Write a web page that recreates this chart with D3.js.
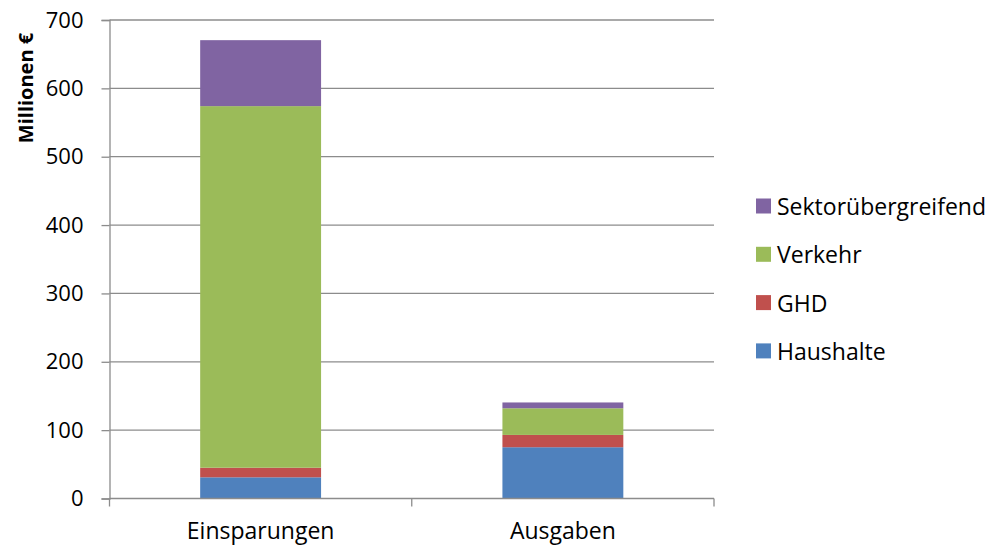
<!DOCTYPE html>
<html>
<head>
<meta charset="utf-8">
<script src="https://cdn.jsdelivr.net/npm/d3@7"></script>
<style>
  html, body { margin: 0; padding: 0; background: #fff; }
  svg { display: block; font-family: "Open Sans", sans-serif; }
</style>
</head>
<body>
<svg id="chart" width="990" height="547"></svg>
<script>
// Categories and stacked series (million €)
const categories = ["Einsparungen", "Ausgaben"];
const seriesNames = ["Haushalte", "GHD", "Verkehr", "Sektorübergreifend"];
const haushalte = [31, 75];
const ghd = [14, 18];
const verkehr = [529, 39];
const sektoruebergreifend = [96.5, 8.5];
const yTicks = [0, 100, 200, 300, 400, 500, 600, 700];
const colors = ["#4F81BD", "#C0504D", "#9BBB59", "#8064A2"];
const yLabel = "Millionen €";

const FONT = "'Open Sans', sans-serif";

const rows = categories.map((c, i) => ({
  category: c,
  "Haushalte": haushalte[i],
  "GHD": ghd[i],
  "Verkehr": verkehr[i],
  "Sektorübergreifend": sektoruebergreifend[i]
}));

const svg = d3.select("#chart");
const plot = { left: 109.5, right: 714, top: 20, bottom: 498.5 };

const x = d3.scaleBand()
  .domain(categories)
  .range([plot.left, plot.right])
  .paddingInner(0.6)
  .paddingOuter(0.3);

const y = d3.scaleLinear()
  .domain([0, 700])
  .range([plot.bottom, plot.top]);

const gridColor = "#8c8c8c";

// Horizontal gridlines
svg.append("g")
  .selectAll("line")
  .data(yTicks.filter(t => t > 0))
  .join("line")
  .attr("x1", plot.left)
  .attr("x2", plot.right)
  .attr("y1", d => y(d))
  .attr("y2", d => y(d))
  .attr("stroke", gridColor)
  .attr("stroke-width", 1.3);

// Stacked bars
const stack = d3.stack().keys(seriesNames);
const layers = stack(rows);

svg.append("g")
  .selectAll("g")
  .data(layers)
  .join("g")
  .attr("fill", (d, i) => colors[i])
  .selectAll("rect")
  .data(d => d)
  .join("rect")
  .attr("x", d => x(d.data.category))
  .attr("width", x.bandwidth())
  .attr("y", d => y(d[1]))
  .attr("height", d => y(d[0]) - y(d[1]));

// Y axis
const yAxis = d3.axisLeft(y)
  .tickValues(yTicks)
  .tickSize(8)
  .tickPadding(18);

const gy = svg.append("g")
  .attr("transform", `translate(${plot.left},0)`)
  .call(yAxis);
gy.select(".domain").attr("stroke", gridColor).attr("stroke-width", 1.3);
gy.selectAll(".tick line").attr("stroke", gridColor).attr("stroke-width", 1.3);
gy.selectAll(".tick text")
  .attr("font-size", 22)
  .attr("fill", "#000")
  .style("font-family", FONT);

// X axis: ticks at category boundaries
const xAxisG = svg.append("g");
xAxisG.append("line")
  .attr("x1", plot.left).attr("x2", plot.right)
  .attr("y1", y(0)).attr("y2", y(0))
  .attr("stroke", gridColor).attr("stroke-width", 1.3);

const boundaries = d3.range(categories.length + 1)
  .map(i => plot.left + i * (plot.right - plot.left) / categories.length);
xAxisG.selectAll(".xtick")
  .data(boundaries)
  .join("line")
  .attr("class", "xtick")
  .attr("x1", d => d).attr("x2", d => d)
  .attr("y1", y(0)).attr("y2", y(0) + 8)
  .attr("stroke", gridColor).attr("stroke-width", 1.3);

xAxisG.selectAll(".xlabel")
  .data(categories)
  .join("text")
  .attr("class", "xlabel")
  .attr("x", d => x(d) + x.bandwidth() / 2)
  .attr("y", 539)
  .attr("text-anchor", "middle")
  .attr("font-size", 23)
  .text(d => d);

// Y axis title
svg.append("text")
  .attr("transform", "translate(25,88) rotate(-90)")
  .attr("text-anchor", "middle")
  .attr("dominant-baseline", "central")
  .attr("font-size", 20)
  .attr("font-weight", "bold")
  .text(yLabel);

// Legend, top to bottom in reverse stack order
const legendItems = seriesNames.map((n, i) => ({ name: n, color: colors[i] })).reverse();
const legend = svg.append("g")
  .selectAll("g")
  .data(legendItems)
  .join("g")
  .attr("transform", (d, i) => `translate(756,${206 + i * 48.3})`);

legend.append("rect")
  .attr("x", 0).attr("y", -7.5)
  .attr("width", 15).attr("height", 15)
  .attr("fill", d => d.color);

legend.append("text")
  .attr("x", 21)
  .attr("y", 0)
  .attr("dominant-baseline", "central")
  .attr("font-size", 23)
  .text(d => d.name);
</script>
</body>
</html>
